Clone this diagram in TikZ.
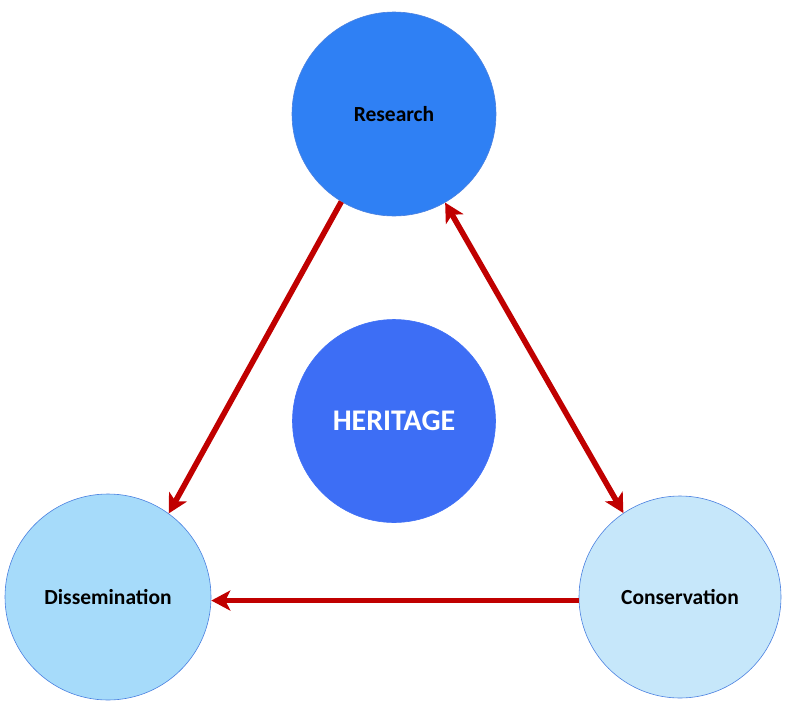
\documentclass[tikz,border=0pt]{standalone}
\usepackage{fontspec}
\setmainfont{Carlito}
\usetikzlibrary{arrows.meta}
\definecolor{resblue}{HTML}{2F80F4}
\definecolor{herblue}{HTML}{3D6EF5}
\definecolor{disblue}{HTML}{A6DBFA}
\definecolor{conblue}{HTML}{C6E7FA}
\definecolor{edgeblue}{HTML}{4A80E0}
\definecolor{arrred}{HTML}{C00000}
\tikzset{
  bubble/.style={circle, draw=edgeblue, line width=0.6pt, minimum size=#1, inner sep=0pt, font=\bfseries\fontsize{21.5}{25}\selectfont},
  link/.style={draw=arrred, line width=5.6pt},
  tip/.tip={Stealth[length=19pt, width=20pt, inset=5pt]}
}
\begin{document}
\begin{tikzpicture}[x=1pt, y=-1pt]
\useasboundingbox (0,0) rectangle (785,713);
\node[bubble=204pt, fill=resblue] (R) at (394,114) {Research};
\node[bubble=203pt, fill=herblue, draw=herblue, text=white, font=\bfseries\fontsize{30}{36}\selectfont] (H) at (394,421) {HERITAGE};
\node[bubble=206pt, fill=disblue] (D) at (108,597) {Dissemination};
\node[bubble=202pt, fill=conblue] (C) at (680,597) {Conservation};
\draw[link, -{tip}] (R.239) -- (D.54);
\draw[link, {tip}-{tip}] (R.300) -- (C.124);
\draw[link, -{tip}] (C.182) -- (D.east |- C.182);
\end{tikzpicture}
\end{document}
